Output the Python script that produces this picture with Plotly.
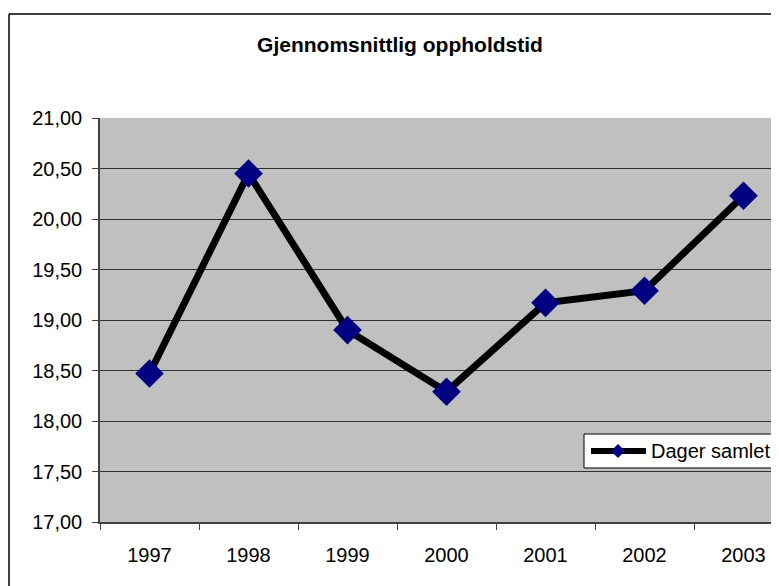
import plotly.graph_objects as go

years = ["1997", "1998", "1999", "2000", "2001", "2002", "2003"]
dager_samlet = [18.47, 20.45, 18.90, 18.29, 19.17, 19.29, 20.23]
series_name = "Dager samlet"
title_text = "Gjennomsnittlig oppholdstid"
y_ticks = [17.0, 17.5, 18.0, 18.5, 19.0, 19.5, 20.0, 20.5, 21.0]

OFF = 8  # page body margin
W, H = 779 - OFF, 586 - OFF
L, T, B = 100 - OFF, 118 - OFF, 64
plot_w = W - L
plot_h = H - T - B
cat_px = 99.0
x_max = -0.5 + plot_w / cat_px


def fx(px):  # screen px -> paper x
    return (px - OFF - L) / plot_w


def fy(py):  # screen px -> paper y
    return (H - B - (py - OFF)) / plot_h


fig = go.Figure()
fig.add_trace(go.Scatter(
    x=list(range(len(years))), y=dager_samlet, name=series_name,
    mode="lines+markers",
    line=dict(color="black", width=7),
    marker=dict(symbol="diamond", size=22, color="#000080",
                line=dict(width=0)),
    showlegend=False,
))

# outer chart border (top and left visible, rest cut off)
fig.add_shape(type="line", xref="paper", yref="paper",
              x0=fx(9), x1=fx(779), y0=fy(14), y1=fy(14),
              line=dict(color="black", width=1.5))
fig.add_shape(type="line", xref="paper", yref="paper",
              x0=fx(9), x1=fx(9), y0=fy(14), y1=fy(586),
              line=dict(color="black", width=1.5))

# legend box (manual, cut off at right like the reference)
lg_y = 451
fig.add_shape(type="rect", xref="paper", yref="paper",
              x0=fx(584), x1=fx(830), y0=fy(468), y1=fy(434),
              line=dict(color="black", width=1), fillcolor="white")
fig.add_shape(type="line", xref="paper", yref="paper",
              x0=fx(591), x1=fx(646), y0=fy(lg_y), y1=fy(lg_y),
              line=dict(color="black", width=6))
cx, cy, r = 618, lg_y, 7
path = "M {} {} L {} {} L {} {} L {} {} Z".format(
    fx(cx - r), fy(cy), fx(cx), fy(cy - r), fx(cx + r), fy(cy), fx(cx), fy(cy + r))
fig.add_shape(type="path", xref="paper", yref="paper", path=path,
              fillcolor="#000080", line=dict(width=0))
fig.add_annotation(xref="paper", yref="paper", x=fx(649), y=fy(lg_y),
                   text=series_name, showarrow=False, xanchor="left",
                   yanchor="middle", font=dict(size=20))

fig.update_layout(
    width=W, height=H,
    margin=dict(l=L, r=0, t=T, b=B),
    paper_bgcolor="white",
    plot_bgcolor="#C0C0C0",
    separators=", ",
    showlegend=False,
    font=dict(family="Arial, Liberation Sans, sans-serif", size=20, color="black"),
    title=dict(text="<b>" + title_text + "</b>", x=(400 - OFF) / W,
               xanchor="center", y=1 - (45 - OFF) / H, yanchor="middle",
               font=dict(size=21)),
    xaxis=dict(
        range=[-0.5, x_max],
        tickmode="array",
        tickvals=list(range(len(years))),
        ticktext=years,
        showgrid=False, zeroline=False,
        showline=True, linecolor="#404040", linewidth=1.5,
        ticks="",
        minor=dict(tickmode="array",
                   tickvals=[i + 0.5 for i in range(-1, len(years))],
                   ticks="outside", ticklen=6, tickcolor="#404040", showgrid=False),
        tickfont=dict(size=20),
        ticklabelstandoff=14,
    ),
    yaxis=dict(
        range=[17, 21],
        tickvals=y_ticks,
        tickformat=".2f",
        showgrid=True, gridcolor="#303030", gridwidth=1,
        zeroline=False,
        showline=True, linecolor="#404040", linewidth=1.5,
        ticks="outside", ticklen=6, tickcolor="#404040",
        tickfont=dict(size=20),
        ticklabelstandoff=6,
    ),
)

fig.write_html("out.html")
